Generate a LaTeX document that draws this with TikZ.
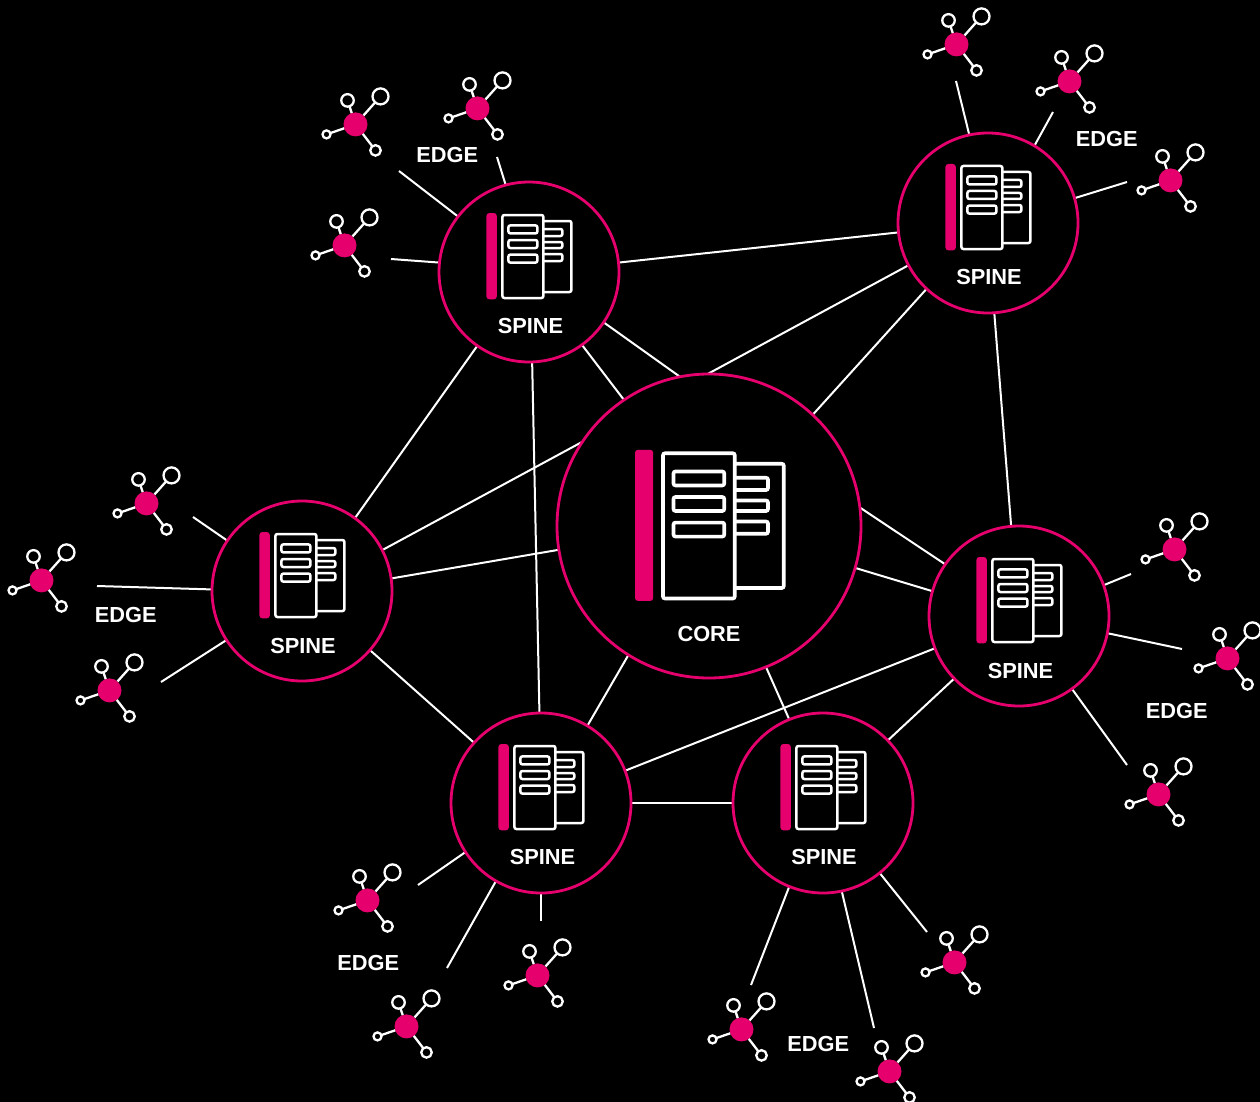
\documentclass[tikz,border=0pt]{standalone}
\usepackage{fontspec}
\setmainfont{Liberation Sans}
\usetikzlibrary{backgrounds}
\definecolor{magenta}{HTML}{E6006E}
\tikzset{
  x=1pt,y=-1pt,
  hub/.style={circle,draw=magenta,fill=black,line width=2.8pt,inner sep=0pt,outer sep=0pt},
  spinehub/.style={hub,minimum size=180pt},
  corehub/.style={hub,minimum size=304pt},
  link/.style={draw=white,line width=2pt},
  lbl/.style={text=white,font=\fontsize{21.8}{24}\selectfont\bfseries,inner sep=0pt},
  sat/.style={circle,draw=white,fill=black,line width=2.3pt,inner sep=0pt,outer sep=0pt},
  pics/server/.style={code={
    \fill[magenta,rounded corners=3pt] (-42,-59) rectangle (-31.6,27.4);
    \draw[white,rounded corners=2pt] (15,-51) -- (43,-51) -- (43,20) -- (15,20);
    \draw[white,rounded corners=2pt] (15,-43) -- (34,-43) -- (34,-36) -- (15,-36);
    \draw[white,rounded corners=2pt] (15,-30) -- (34,-30) -- (34,-24) -- (15,-24);
    \draw[white,rounded corners=2pt] (15,-18) -- (34,-18) -- (34,-11) -- (15,-11);
    \draw[white,fill=black,rounded corners=2pt] (-26,-57) rectangle (15,26);
    \draw[white,rounded corners=2pt] (-20,-46.6) rectangle (9,-38.6);
    \draw[white,rounded corners=2pt] (-20,-32) rectangle (9,-24);
    \draw[white,rounded corners=2pt] (-20,-17.4) rectangle (9,-9.4);
  }},
  pics/edgedevice/.style={code={
    \node[circle,fill=magenta,minimum size=24pt,inner sep=0pt,outer sep=0pt] (-c) at (0,0) {};
    \node[sat,minimum size=16pt] (-a) at (25,-28) {};
    \node[sat,minimum size=12.5pt] (-b) at (-8,-24) {};
    \node[sat,minimum size=10.5pt] (-d) at (20,26) {};
    \node[sat,minimum size=8pt] (-e) at (-29,10) {};
    \draw[white,line width=2.3pt] (-c) -- (-a);
    \draw[white,line width=2.3pt] (-c) -- (-b);
    \draw[white,line width=2.3pt] (-c) -- (-d);
    \draw[white,line width=2.3pt] (-c) -- (-e);
  }}
}
\begin{document}
\begin{tikzpicture}
\useasboundingbox (0,0) rectangle (1260,1102);
% hubs
\node[corehub] (core) at (709,526) {};
\node[spinehub] (A) at (529,272) {};
\node[spinehub] (B) at (988,223) {};
\node[spinehub] (C) at (302,591) {};
\node[spinehub] (D) at (1019,616) {};
\node[spinehub] (E) at (541,803) {};
\node[spinehub] (F) at (823,803) {};
% icons
\pic[scale=1.75,line width=3.6pt] (corei) at (708.5,553) {server};
\foreach \n/\xx/\yy in {A/528.4/272,B/987.4/223,C/301.4/591,D/1018.4/616,E/540.4/803,F/822.4/803}
  \pic[line width=2.5pt] (i\n) at (\xx,\yy) {server};
% labels
\node[lbl] (lcore) at (709,634) {CORE};
\foreach \n/\xx/\yy in {A/530.5/326,B/989/277,C/303/646,D/1020.5/671,E/542.5/857,F/824/857}
  \node[lbl] (l\n) at (\xx,\yy) {SPINE};
\node[lbl] (e1) at (447.3,155) {EDGE};
\node[lbl] (e2) at (1106.8,139) {EDGE};
\node[lbl] (e3) at (125.8,615) {EDGE};
\node[lbl] (e4) at (1176.8,711) {EDGE};
\node[lbl] (e5) at (368.3,963) {EDGE};
\node[lbl] (e6) at (818.3,1044) {EDGE};
% edge devices
\foreach \n/\xx/\yy in {a1/477.5/108.4,a2/355.5/124.4,a3/344.5/245.4,b1/956.5/44.4,b2/1069.5/81.4,b3/1170.5/180.4,c1/146.5/503.4,c2/41.5/580.4,c3/109.5/690.4,d1/1174.5/549.4,d2/1227.5/658.4,d3/1158.5/794.4,e1/367.5/900.4,e2/406.5/1026.4,e3/537.5/975.4,f1/741.5/1029.4,f2/889.5/1071.4,f3/954.5/962.4}
  \pic (dev\n) at (\xx,\yy) {edgedevice};
% free ends of the connectors to edge devices
\coordinate (pa1) at (497,157);
\coordinate (pa2) at (399,171);
\coordinate (pa3) at (391,259);
\coordinate (pb1) at (956,81);
\coordinate (pb2) at (1053,112);
\coordinate (pb3) at (1127,182);
\coordinate (pc1) at (193,517);
\coordinate (pc2) at (97,586);
\coordinate (pc3) at (161,682);
\coordinate (pd1) at (1131,574);
\coordinate (pd2) at (1182,649);
\coordinate (pd3) at (1127,765);
\coordinate (pe1) at (418,885);
\coordinate (pe2) at (447,968);
\coordinate (pe3) at (541,921);
\coordinate (pf1) at (751,985);
\coordinate (pf2) at (874,1028);
\coordinate (pf3) at (927,932);
\begin{scope}[on background layer]
\fill[black] (0,0) rectangle (1260,1102);
% hub to hub
\draw[link] (A.6.3) -- (B.186.3);
\draw[link] (A.-34.2) -- (core.101.4);
\draw[link] (A.-54.4) -- (core.124.8);
\draw[link] (A.-125.1) -- (C.54.5);
\draw[link] (A.-88.7) -- (E.91.3);
\draw[link] (B.208.3) -- (C.27.7);
\draw[link] (B.227.7) -- (core.47.4);
\draw[link] (B.-86.2) -- (D.95.1);
\draw[link] (C.8.8) -- (core.189);
\draw[link] (C.-41.4) -- (E.138.2);
\draw[link] (core.7.9) -- (D.145.3);
\draw[link] (core.-16) -- (D.164.6);
\draw[link] (core.238.7) -- (E.59.1);
\draw[link] (core.-68.1) -- (F.112.9);
\draw[link] (D.201.2) -- (E.21.8);
\draw[link] (D.224.1) -- (F.44.1);
\draw[link] (E.0.6) -- (F.180);
% hub to edge devices
\draw[link] (A.105.9) -- (pa1);
\draw[link] (A.142.1) -- (pa2);
\draw[link] (A.174.9) -- (pa3);
\draw[link] (B.102.7) -- (pb1);
\draw[link] (B.59.5) -- (pb2);
\draw[link] (B.16.6) -- (pb3);
\draw[link] (C.146.3) -- (pc1);
\draw[link] (C.179.4) -- (pc2);
\draw[link] (C.213.3) -- (pc3);
\draw[link] (D.20.6) -- (pd1);
\draw[link] (D.-11.3) -- (pd2);
\draw[link] (D.-54.2) -- (pd3);
\draw[link] (E.213.7) -- (pe1);
\draw[link] (E.240.3) -- (pe2);
\draw[link] (E.-90) -- (pe3);
\draw[link] (F.248.2) -- (pf1);
\draw[link] (F.-78) -- (pf2);
\draw[link] (F.-51.6) -- (pf3);
\end{scope}
\end{tikzpicture}
\end{document}
